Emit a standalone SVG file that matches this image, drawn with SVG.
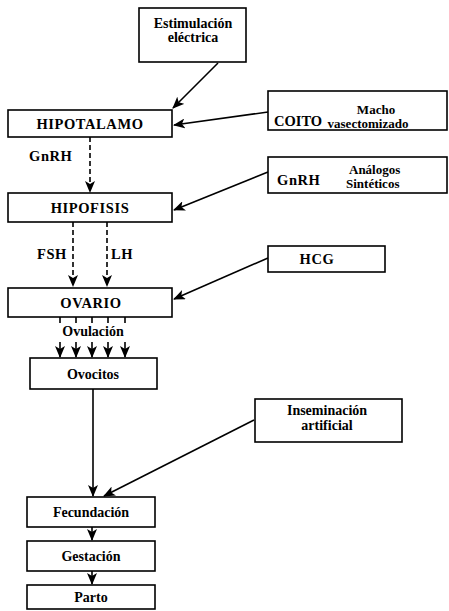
<svg xmlns="http://www.w3.org/2000/svg" width="449" height="611" viewBox="0 0 449 611">
<style>
.box{fill:#fff;stroke:#000;stroke-width:1.6}
text{font-family:"Liberation Serif","Times New Roman",serif;font-weight:bold;font-size:14px;fill:#000}
.cap{font-size:14.5px;letter-spacing:0.6px}
.sm{font-size:13px}
.c{text-anchor:middle}
.ln{stroke:#000;stroke-width:1.6;fill:none}
.d{stroke-dasharray:5,3}
</style>
<defs>
<marker id="ah" viewBox="0 0 12 10" refX="11" refY="5" markerWidth="12" markerHeight="10" markerUnits="userSpaceOnUse" orient="auto">
<path d="M0,0 L12,5 L0,10 L3,5 z" fill="#000"/>
</marker>
</defs>
<rect width="449" height="611" fill="#fff"/>
<g id="connectors">
<line class="ln" x1="218" y1="63" x2="173" y2="108" marker-end="url(#ah)"/>
<line class="ln" x1="268" y1="112" x2="174" y2="125" marker-end="url(#ah)"/>
<line class="ln d" x1="90" y1="137" x2="90" y2="192" marker-end="url(#ah)"/>
<line class="ln" x1="268" y1="172" x2="174" y2="210" marker-end="url(#ah)"/>
<line class="ln d" x1="73" y1="222" x2="73" y2="286" marker-end="url(#ah)"/>
<line class="ln d" x1="107" y1="222" x2="107" y2="286" marker-end="url(#ah)"/>
<line class="ln" x1="268" y1="258" x2="174" y2="299" marker-end="url(#ah)"/>
<g class="ln">
<line x1="60" y1="317" x2="60" y2="323"/>
<line x1="76" y1="317" x2="76" y2="323"/>
<line x1="92" y1="317" x2="92" y2="323"/>
<line x1="108" y1="317" x2="108" y2="323"/>
<line x1="125" y1="317" x2="125" y2="323"/>
</g>
<line class="ln" x1="60" y1="342" x2="60" y2="357" marker-end="url(#ah)"/>
<line class="ln" x1="76" y1="342" x2="76" y2="357" marker-end="url(#ah)"/>
<line class="ln" x1="92" y1="342" x2="92" y2="357" marker-end="url(#ah)"/>
<line class="ln" x1="108" y1="342" x2="108" y2="357" marker-end="url(#ah)"/>
<line class="ln" x1="125" y1="342" x2="125" y2="357" marker-end="url(#ah)"/>
<line class="ln" x1="93" y1="389" x2="93" y2="496" marker-end="url(#ah)"/>
<line class="ln" x1="254" y1="420" x2="104" y2="496" marker-end="url(#ah)"/>
<line class="ln" x1="92" y1="527" x2="92" y2="540" marker-end="url(#ah)"/>
<line class="ln" x1="92" y1="571" x2="92" y2="584" marker-end="url(#ah)"/>
</g>
<g id="estimulacion"><rect class="box" x="139" y="8" width="107" height="54"/><text class="c" x="193" y="28">Estimulación</text><text class="c" x="193" y="42">eléctrica</text></g>
<g id="hipotalamo"><rect class="box" x="8" y="110" width="164" height="27"/><text class="c cap" x="90" y="129">HIPOTALAMO</text></g>
<g id="coito"><rect class="box" x="268" y="91" width="179" height="39"/><text class="cap" x="274" y="126" style="letter-spacing:0">COITO</text><text class="c sm" x="376" y="114">Macho</text><text class="c sm" x="368" y="128">vasectomizado</text></g>
<g id="gnrh-analogos"><rect class="box" x="268" y="157" width="179" height="36"/><text class="cap" x="277" y="185">GnRH</text><text class="sm" x="349" y="174">Análogos</text><text class="sm" x="346" y="188">Sintéticos</text></g>
<g id="gnrh-label"><text class="cap" x="29" y="161">GnRH</text></g>
<g id="hipofisis"><rect class="box" x="8" y="193" width="164" height="29"/><text class="c cap" x="90" y="213">HIPOFISIS</text></g>
<g id="fsh"><text class="cap" x="37" y="259">FSH</text></g>
<g id="lh"><text class="cap" x="111" y="259">LH</text></g>
<g id="hcg"><rect class="box" x="268" y="246" width="117" height="26"/><text class="c cap" x="317" y="264">HCG</text></g>
<g id="ovario"><rect class="box" x="8" y="288" width="164" height="29"/><text class="c cap" x="91" y="308">OVARIO</text></g>
<g id="ovulacion"><text class="c" x="93" y="336">Ovulación</text></g>
<g id="ovocitos"><rect class="box" x="30" y="358" width="127" height="31"/><text class="c" x="93" y="379">Ovocitos</text></g>
<g id="inseminacion"><rect class="box" x="255" y="399" width="147" height="43"/><text class="c" x="327" y="415">Inseminación</text><text class="c" x="327" y="430">artificial</text></g>
<g id="fecundacion"><rect class="box" x="27" y="497" width="128" height="30"/><text class="c" x="91" y="517">Fecundación</text></g>
<g id="gestacion"><rect class="box" x="27" y="541" width="128" height="30"/><text class="c" x="91" y="561">Gestación</text></g>
<g id="parto"><rect class="box" x="27" y="585" width="128" height="24"/><text class="c" x="91" y="602">Parto</text></g>
</svg>
